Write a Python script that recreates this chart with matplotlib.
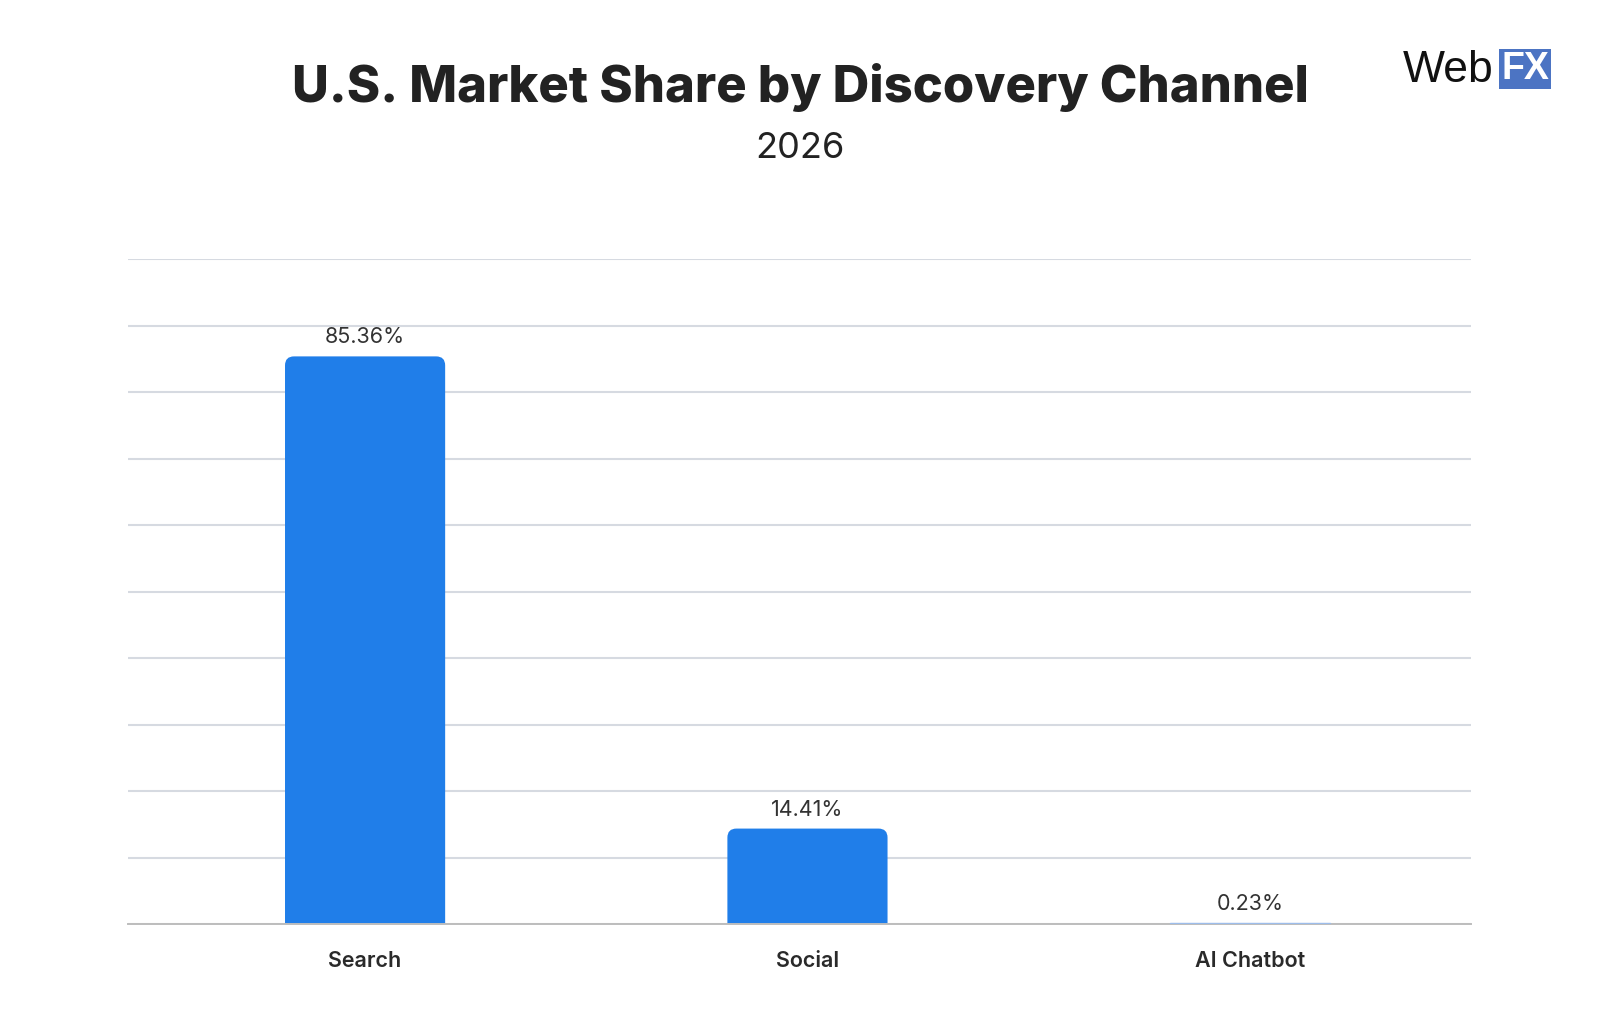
import matplotlib.pyplot as plt
from matplotlib.patches import FancyBboxPatch
import numpy as np

channels = ["Search", "Social", "AI Chatbot"]
shares = [85.36, 14.41, 0.23]
value_labels = ["85.36%", "14.41%", "0.23%"]

title = "U.S. Market Share by Discovery Channel"
subtitle = "2026"

bar_color = "#207EE9"
grid_color = "#D6DAE1"

plt.rcParams['font.family'] = ['Inter', 'DejaVu Sans']

fig = plt.figure(figsize=(16, 10.28), dpi=100)
ax = fig.add_axes([0.0797, 0.1007, 0.8397, 0.6474])

x = np.arange(len(channels))
width = 0.362
bars = ax.bar(x, shares, width=width, color=bar_color, zorder=3)

ax.set_xlim(-0.537, 2.5)
ax.set_ylim(0, 100)

# round the top corners: one rounded box per bar, pushed below 0 so the
# bottom corners are clipped away by the axes
fig.canvas.draw()
bbox = ax.get_window_extent()
px_x = (ax.get_xlim()[1] - ax.get_xlim()[0]) / bbox.width
px_y = (ax.get_ylim()[1] - ax.get_ylim()[0]) / bbox.height
r_px = 9
for b in bars:
    h = b.get_height()
    if h / px_y < 3 * r_px:
        b.set_color("#9DBDEB")
        b.set_zorder(5)
        continue
    b.set_visible(False)
    x0, w = b.get_x(), b.get_width()
    drop = 2 * r_px * px_y
    ax.add_patch(FancyBboxPatch((x0, -drop), w, h + drop,
                                boxstyle=f"round,pad=0,rounding_size={r_px * px_x}",
                                mutation_aspect=px_y / px_x,
                                fc=bar_color, ec="none", zorder=3))

for xi, v, lab in zip(x, shares, value_labels):
    ax.annotate(lab, (xi, v), xytext=(0, 9), textcoords="offset pixels",
                ha="center", va="bottom", fontsize=15.5, color="#333333")

ax.set_yticks(np.arange(0, 101, 10))
ax.set_yticklabels([])
ax.tick_params(axis="y", length=0)
ax.grid(axis="y", color=grid_color, linewidth=1.5, zorder=0)
ax.set_xticks(x)
ax.set_xticklabels(channels, fontsize=15.5, fontweight="semibold", color="#2a2a2a")
ax.tick_params(axis="x", length=0, pad=19)
for s in ["top", "right", "left"]:
    ax.spines[s].set_visible(False)
ax.spines["bottom"].set_color("#BDBDBD")
ax.spines["bottom"].set_linewidth(1.4)
ax.spines["bottom"].set_zorder(4)

fig.text(0.5, 1 - 88 / 1028, title, ha="center", va="center",
         fontsize=36.5, fontweight="heavy", color="#222222")
fig.text(0.5, 1 - 149 / 1028, subtitle, ha="center", va="center",
         fontsize=26, color="#222222")

# logo
fig.text(1403 / 1600, 1 - 70 / 1028, "Web", ha="left", va="center",
         fontsize=32, color="#111111", family=["Liberation Sans", "DejaVu Sans"])
fig.text(1525 / 1600, 1 - 69 / 1028, "FX", ha="center", va="center",
         fontsize=27, fontweight="bold", color="white",
         family=["Liberation Sans", "DejaVu Sans"],
         bbox=dict(boxstyle="square,pad=0.06", fc="#4C74C3", ec="none"))

fig.savefig("out.png", dpi=100)
